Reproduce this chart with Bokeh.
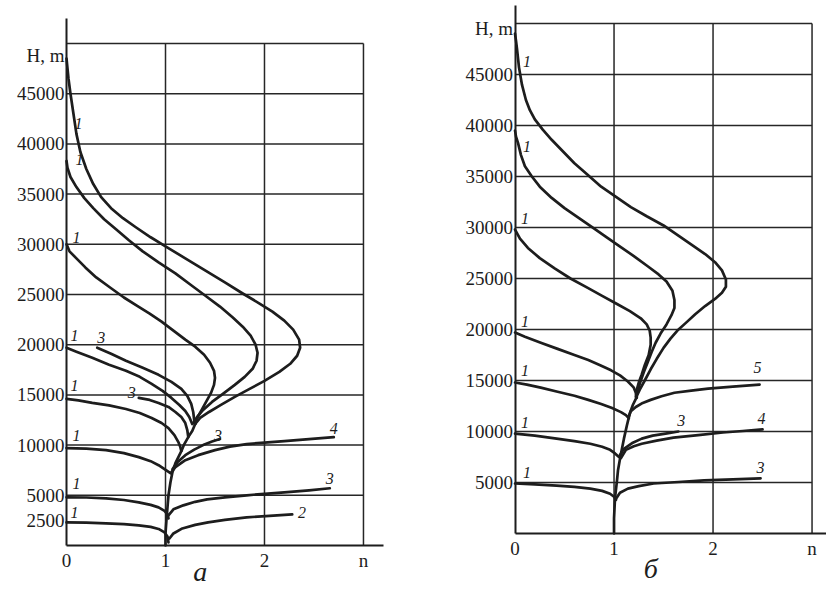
from bokeh.plotting import figure
from bokeh.layouts import row
from bokeh.models import FixedTicker
from bokeh.core.properties import value
from bokeh.embed import file_html
from bokeh.resources import INLINE

# ---------------- panel "а" data (n, H in m) ----------------
a45_n = [0, 0.01, 0.02, 0.04, 0.07, 0.1, 0.14, 0.2, 0.27, 0.35, 0.45, 0.57, 0.7, 0.85, 1.0, 1.2, 1.4, 1.6, 1.78, 1.95, 2.08, 2.2, 2.29, 2.35, 2.36, 2.33, 2.26, 2.15, 2.0, 1.85, 1.7, 1.56, 1.44, 1.35, 1.3]
a45_h = [48500, 47500, 46500, 45000, 43000, 41000, 39200, 37500, 36000, 34700, 33600, 32600, 31700, 30700, 29800, 28600, 27400, 26200, 25100, 24100, 23300, 22400, 21500, 20500, 19700, 18900, 18100, 17300, 16400, 15600, 14800, 14000, 13300, 12700, 12100]
a38_n = [0, 0.01, 0.04, 0.1, 0.18, 0.27, 0.38, 0.5, 0.63, 0.77, 0.93, 1.1, 1.25, 1.4, 1.55, 1.68, 1.78, 1.86, 1.91, 1.93, 1.92, 1.88, 1.8, 1.7, 1.58, 1.47, 1.38, 1.32, 1.28]
a38_h = [38300, 37600, 36700, 35700, 34600, 33600, 32500, 31500, 30400, 29300, 28200, 27100, 26000, 24900, 23800, 22700, 21800, 20900, 20000, 19200, 18400, 17600, 16800, 16000, 15100, 14300, 13500, 12800, 12200]
a30_n = [0, 0.03, 0.1, 0.19, 0.3, 0.44, 0.58, 0.71, 0.84, 0.96, 1.08, 1.2, 1.3, 1.39, 1.45, 1.49, 1.5, 1.49, 1.46, 1.41, 1.36, 1.32, 1.3]
a30_h = [30000, 29300, 28600, 27700, 26700, 25700, 24700, 23900, 23100, 22300, 21400, 20500, 19800, 19000, 18200, 17400, 16700, 16000, 15200, 14300, 13400, 12700, 12100]
a20_1_n = [0, 0.1, 0.26, 0.43, 0.6, 0.74, 0.86, 0.97, 1.06, 1.14, 1.2, 1.24, 1.27]
a20_1_h = [19700, 19300, 18700, 18000, 17400, 16800, 16100, 15400, 14700, 14000, 13400, 12800, 12100]
a20_3_n = [0.31, 0.45, 0.6, 0.77, 0.93, 1.06, 1.16, 1.22, 1.26, 1.28, 1.29]
a20_3_h = [19700, 19100, 18400, 17700, 17000, 16300, 15600, 14900, 14100, 13300, 12500]
a15_1_n = [0, 0.12, 0.26, 0.43, 0.6, 0.74, 0.86, 0.96, 1.03, 1.09, 1.13, 1.15, 1.16]
a15_1_h = [14600, 14450, 14200, 13950, 13600, 13200, 12700, 12200, 11700, 11000, 10300, 9800, 9400]
a15_3_n = [0.73, 0.84, 0.93, 1.03, 1.1, 1.16, 1.2, 1.22, 1.23]
a15_3_h = [14700, 14500, 14200, 13800, 13300, 12800, 12200, 11500, 10800]
a_stem_n = [1.3, 1.27, 1.23, 1.19, 1.16, 1.13, 1.1, 1.07, 1.05, 1.03, 1.02, 1.01, 1.0, 1.0]
a_stem_h = [12100, 11400, 10800, 10100, 9400, 8800, 8200, 7300, 6300, 5000, 3800, 2600, 1200, 0]
a10_1_n = [0, 0.2, 0.4, 0.58, 0.73, 0.85, 0.93, 0.99, 1.05]
a10_1_h = [9700, 9650, 9500, 9200, 8800, 8400, 8000, 7600, 7200]
a10_4_n = [1.06, 1.1, 1.2, 1.33, 1.5, 1.65, 1.82, 2.0, 2.2, 2.45, 2.7]
a10_4_h = [7300, 7800, 8500, 9000, 9500, 9850, 10100, 10250, 10400, 10600, 10800]
a10_3_n = [1.07, 1.12, 1.2, 1.29, 1.38, 1.47, 1.55]
a10_3_h = [7600, 8300, 9000, 9550, 10000, 10350, 10600]
a5_1_n = [0, 0.2, 0.4, 0.58, 0.73, 0.85, 0.93, 0.99, 1.02, 1.03]
a5_1_h = [4800, 4780, 4700, 4530, 4300, 4050, 3800, 3450, 3100, 2700]
a5_3_n = [1.03, 1.08, 1.18, 1.3, 1.42, 1.6, 1.82, 2.0, 2.2, 2.45, 2.66]
a5_3_h = [3000, 3600, 4000, 4350, 4600, 4800, 5000, 5150, 5300, 5500, 5700]
a25_1_n = [0, 0.2, 0.4, 0.58, 0.73, 0.85, 0.93, 0.99, 1.02, 1.03]
a25_1_h = [2300, 2280, 2200, 2120, 2000, 1850, 1650, 1300, 900, 300]
a25_2_n = [1.04, 1.08, 1.17, 1.3, 1.43, 1.6, 1.82, 2.05, 2.28]
a25_2_h = [700, 1200, 1700, 2050, 2300, 2550, 2800, 2950, 3100]

a_lab_text = ["1", "1", "1", "1", "3", "1", "3", "1", "3", "4", "1", "3", "1", "2"]
a_lab_n = [0.12, 0.13, 0.1, 0.08, 0.35, 0.08, 0.66, 0.1, 1.53, 2.7, 0.1, 2.66, 0.08, 2.38]
a_lab_h = [42000, 38400, 30700, 20900, 20700, 15900, 15200, 11000, 11000, 11700, 6200, 6700, 3300, 3300]

a_yticks = [2500, 5000, 10000, 15000, 20000, 25000, 30000, 35000, 40000, 45000]
a_hgrid = [5000, 10000, 15000, 20000, 25000, 30000, 35000, 40000, 45000, 50000]

# ---------------- panel "б" data ----------------
b48_n = [0, 0.01, 0.02, 0.04, 0.07, 0.11, 0.15, 0.2, 0.28, 0.37, 0.48, 0.6, 0.73, 0.87, 1.02, 1.17, 1.33, 1.5, 1.65, 1.8, 1.92, 2.02, 2.09, 2.13, 2.13, 2.09, 2.02, 1.92, 1.82, 1.72, 1.64, 1.57, 1.5, 1.43, 1.37, 1.31, 1.26, 1.23]
b48_h = [49000, 48300, 47500, 45700, 44000, 42500, 41500, 40600, 39600, 38600, 37500, 36300, 35200, 34000, 33000, 32000, 31100, 30200, 29200, 28200, 27400, 26600, 25800, 24900, 24200, 23600, 23000, 22300, 21500, 20600, 19900, 19100, 18200, 17100, 16100, 15000, 14100, 13500]
b40_n = [0, 0.01, 0.03, 0.06, 0.1, 0.17, 0.25, 0.37, 0.5, 0.65, 0.8, 0.93, 1.05, 1.2, 1.34, 1.45, 1.53, 1.59, 1.61, 1.61, 1.58, 1.53, 1.47, 1.42, 1.38, 1.34, 1.3, 1.26, 1.23]
b40_h = [39500, 38900, 38300, 37100, 36000, 35000, 34000, 32900, 31900, 30900, 29900, 29000, 28200, 27200, 26200, 25400, 24700, 23800, 22900, 22100, 21400, 20500, 19600, 18700, 17800, 16800, 15800, 14700, 13600]
b30_n = [0, 0.05, 0.13, 0.25, 0.4, 0.56, 0.73, 0.88, 1.03, 1.16, 1.27, 1.33, 1.36, 1.37, 1.37, 1.35, 1.31, 1.28, 1.25, 1.23, 1.22]
b30_h = [29800, 28900, 28000, 27000, 26000, 25000, 24100, 23300, 22500, 21800, 21100, 20500, 19900, 19200, 18500, 17500, 16500, 15600, 14800, 14100, 13400]
b20_1_n = [0, 0.1, 0.26, 0.43, 0.6, 0.74, 0.86, 0.97, 1.06, 1.14, 1.2, 1.22, 1.23]
b20_1_h = [19700, 19300, 18700, 18100, 17500, 17000, 16500, 16000, 15500, 14900, 14300, 13800, 13300]
b_stem_n = [1.23, 1.19, 1.16, 1.13, 1.1, 1.08, 1.06, 1.04, 1.03, 1.01, 1.0, 1.0]
b_stem_h = [13400, 12600, 11800, 10600, 9300, 8300, 7300, 6200, 5200, 3500, 1500, 0]
b15_1_n = [0, 0.12, 0.26, 0.43, 0.6, 0.74, 0.87, 0.98, 1.07, 1.12, 1.15]
b15_1_h = [14800, 14600, 14300, 13900, 13500, 13100, 12700, 12300, 11900, 11600, 11300]
b15_5_n = [1.15, 1.17, 1.22, 1.29, 1.37, 1.48, 1.61, 1.78, 1.95, 2.2, 2.47]
b15_5_h = [11500, 12000, 12400, 12800, 13100, 13450, 13800, 14000, 14200, 14400, 14600]
b10_1_n = [0, 0.2, 0.42, 0.6, 0.76, 0.88, 0.96, 1.01, 1.05]
b10_1_h = [9800, 9600, 9300, 9050, 8800, 8500, 8200, 7850, 7500]
b10_3_n = [1.06, 1.1, 1.19, 1.28, 1.39, 1.52, 1.65]
b10_3_h = [7700, 8300, 8900, 9300, 9600, 9800, 10000]
b10_4_n = [1.07, 1.12, 1.2, 1.28, 1.43, 1.6, 1.85, 2.1, 2.3, 2.5]
b10_4_h = [7400, 8200, 8550, 8800, 9100, 9400, 9650, 9900, 10050, 10200]
b5_1_n = [0, 0.2, 0.42, 0.6, 0.76, 0.88, 0.96, 1.0, 1.02]
b5_1_h = [4900, 4820, 4700, 4570, 4400, 4180, 3900, 3600, 3300]
b5_3_n = [1.02, 1.06, 1.14, 1.25, 1.4, 1.65, 1.91, 2.2, 2.48]
b5_3_h = [3400, 4000, 4400, 4650, 4900, 5050, 5200, 5300, 5400]

b_lab_text = ["1", "1", "1", "1", "1", "5", "1", "3", "4", "1", "3"]
b_lab_n = [0.12, 0.12, 0.1, 0.1, 0.1, 2.45, 0.1, 1.68, 2.49, 0.12, 2.48]
b_lab_h = [46300, 37900, 30900, 20800, 16000, 16300, 10900, 11100, 11300, 6000, 6500]

b_yticks = [5000, 10000, 15000, 20000, 25000, 30000, 35000, 40000, 45000]
b_hgrid = [5000, 10000, 15000, 20000, 25000, 30000, 35000, 40000, 45000, 50000]

x_ticks = [0, 1, 2, 3]
v_grid = [1, 2, 3]

INK = "#1d1d1d"
SERIF = "Liberation Serif"


def make_panel(width, height, xr, yr, curves, lab_text, lab_n, lab_h,
               yticks, hgrid, hm_pos, x_bound, y_bound, letter, letter_pos):
    p = figure(width=width, height=height, x_range=xr, y_range=yr,
               output_backend="svg", toolbar_location=None, min_border=0)
    p.outline_line_color = None
    p.grid.visible = False
    p.background_fill_color = "white"
    p.border_fill_color = "white"

    # grid (frame of 0..3 x 0..50000)
    p.segment(x0=[0] * len(hgrid), y0=hgrid, x1=[3] * len(hgrid), y1=hgrid,
              line_color="#262626", line_width=1.5)
    p.segment(x0=v_grid, y0=[0] * len(v_grid), x1=v_grid, y1=[50000] * len(v_grid),
              line_color="#262626", line_width=1.5)

    for cn, ch in curves:
        p.line(cn, ch, line_color=INK, line_width=2.7,
               line_join="round", line_cap="round")

    p.text(x=lab_n, y=lab_h, text=lab_text, text_font=value(SERIF),
           text_font_style="italic", text_font_size="16px", text_color=INK,
           text_align="center", text_baseline="middle")

    p.text(x=[letter_pos[0]], y=[letter_pos[1]], text=[letter],
           text_font=value(SERIF), text_font_style="italic",
           text_font_size="28px", text_color=INK,
           text_align="center", text_baseline="middle")

    # axes
    xa = p.xaxis[0]
    ya = p.yaxis[0]
    xa.fixed_location = 0
    ya.fixed_location = 0
    xa.bounds = x_bound
    ya.bounds = y_bound
    xa.ticker = FixedTicker(ticks=x_ticks)
    ya.ticker = FixedTicker(ticks=yticks + [hm_pos])
    xa.major_label_overrides = {0: "0", 1: "1", 2: "2", 3: "n"}
    ov = {t: str(t) for t in yticks}
    ov[hm_pos] = "H, m"
    ya.major_label_overrides = ov
    for ax in (xa, ya):
        ax.axis_line_color = INK
        ax.axis_line_width = 2
        ax.major_tick_in = 0
        ax.major_tick_out = 0
        ax.minor_tick_in = 0
        ax.minor_tick_out = 0
        ax.major_label_text_font = SERIF
        ax.major_label_text_font_size = "19px"
        ax.major_label_text_color = INK
    ya.major_label_standoff = 2
    xa.major_label_standoff = 4
    return p


curves_a = [(a45_n, a45_h), (a38_n, a38_h), (a30_n, a30_h),
            (a20_1_n, a20_1_h), (a20_3_n, a20_3_h),
            (a15_1_n, a15_1_h), (a15_3_n, a15_3_h),
            (a_stem_n, a_stem_h),
            (a10_1_n, a10_1_h), (a10_4_n, a10_4_h), (a10_3_n, a10_3_h),
            (a5_1_n, a5_1_h), (a5_3_n, a5_3_h),
            (a25_1_n, a25_1_h), (a25_2_n, a25_2_h)]

curves_b = [(b48_n, b48_h), (b40_n, b40_h), (b30_n, b30_h),
            (b20_1_n, b20_1_h), (b_stem_n, b_stem_h),
            (b15_1_n, b15_1_h), (b15_5_n, b15_5_h),
            (b10_1_n, b10_1_h), (b10_3_n, b10_3_h), (b10_4_n, b10_4_h),
            (b5_1_n, b5_1_h), (b5_3_n, b5_3_h)]

pa = make_panel(438, 590, (-0.667, 3.758), (-4482, 54283), curves_a,
                a_lab_text, a_lab_n, a_lab_h, a_yticks, a_hgrid, 48800,
                (0, 3.2), (0, 52500), "а", (1.35, -2600))
pb = make_panel(388, 590, (-0.773, 3.146), (-5588, 52255), curves_b,
                b_lab_text, b_lab_n, b_lab_h, b_yticks, b_hgrid, 49500,
                (0, 3.146), (0, 51760), "б", (1.37, -3400))

layout = row(pa, pb)
open("out.html", "w").write(file_html(layout, INLINE))
